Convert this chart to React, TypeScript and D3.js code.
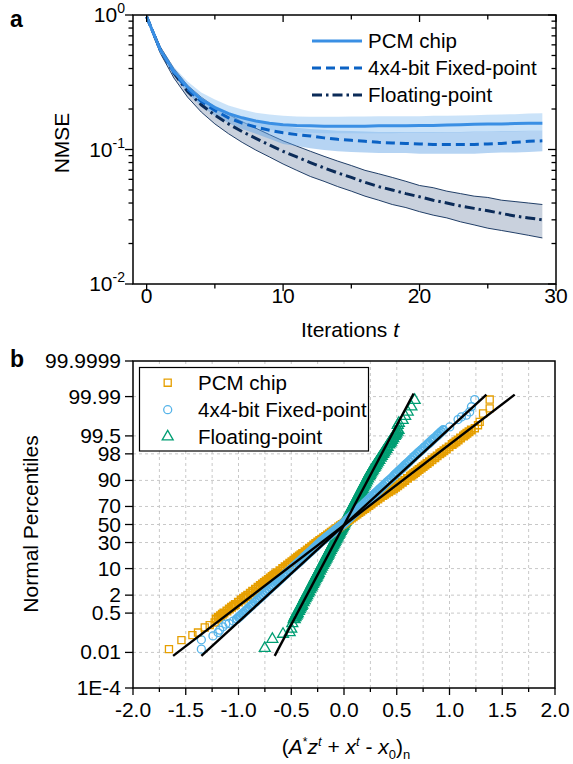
import React from 'react';
import * as d3 from 'd3';

// ---------- Panel a data ----------
const iterations = [0,1,2,3,4,5,6,7,8,9,10,11,12,13,14,15,16,17,18,19,20,21,22,23,24,25,26,27,28,29];
const pcmMean = [0.97,0.55,0.38,0.29,0.235,0.205,0.185,0.172,0.163,0.157,0.153,0.151,0.150,0.149,0.149,0.149,0.149,0.150,0.150,0.150,0.151,0.151,0.152,0.153,0.154,0.155,0.155,0.156,0.157,0.157];
const pcmHi = [1.0,0.58,0.41,0.32,0.265,0.235,0.212,0.198,0.188,0.182,0.178,0.176,0.175,0.175,0.175,0.176,0.176,0.177,0.177,0.177,0.177,0.178,0.178,0.179,0.180,0.181,0.182,0.183,0.185,0.186];
const pcmLo = [0.94,0.52,0.355,0.27,0.218,0.188,0.168,0.155,0.146,0.140,0.136,0.134,0.133,0.132,0.132,0.132,0.132,0.132,0.132,0.133,0.133,0.133,0.134,0.134,0.135,0.135,0.136,0.136,0.137,0.137];
const fixMean = [0.97,0.55,0.375,0.28,0.228,0.195,0.172,0.157,0.147,0.139,0.133,0.129,0.126,0.122,0.119,0.117,0.115,0.113,0.112,0.111,0.110,0.109,0.109,0.109,0.109,0.110,0.111,0.113,0.115,0.116];
const fixHi = [0.99,0.57,0.395,0.30,0.245,0.212,0.19,0.174,0.163,0.155,0.149,0.145,0.142,0.140,0.138,0.137,0.136,0.135,0.135,0.135,0.135,0.135,0.135,0.135,0.136,0.136,0.137,0.137,0.138,0.138];
const fixLo = [0.95,0.53,0.355,0.262,0.21,0.178,0.157,0.142,0.131,0.120,0.110,0.106,0.102,0.099,0.097,0.096,0.095,0.094,0.094,0.094,0.093,0.093,0.093,0.093,0.093,0.094,0.095,0.095,0.096,0.097];
const floatMean = [0.97,0.55,0.37,0.27,0.215,0.18,0.155,0.136,0.121,0.108,0.097,0.088,0.080,0.073,0.067,0.062,0.057,0.053,0.050,0.047,0.0445,0.042,0.040,0.038,0.0365,0.035,0.0335,0.032,0.031,0.030];
const floatHi = [0.99,0.58,0.40,0.30,0.245,0.208,0.182,0.161,0.144,0.129,0.116,0.106,0.097,0.089,0.082,0.076,0.070,0.066,0.062,0.058,0.054,0.052,0.049,0.047,0.045,0.044,0.042,0.041,0.040,0.039];
const floatLo = [0.95,0.52,0.34,0.245,0.19,0.155,0.131,0.113,0.099,0.088,0.078,0.070,0.063,0.058,0.053,0.049,0.045,0.042,0.039,0.037,0.0345,0.0325,0.031,0.029,0.0275,0.026,0.025,0.024,0.023,0.022];
const legendA = ['PCM chip', '4x4-bit Fixed-point', 'Floating-point'];

// ---------- Panel b data ----------
const bandPct = [
  0.3,0.35,0.4,0.45,0.5,0.6,0.7,0.8,0.9,1,1.2,1.4,1.6,1.8,2,2.3,2.6,3,3.4,3.8,4.2,4.6,5,5.5,6,6.5,7,7.5,8,9,
  10,11,12,13,14,15,16,17,18,19,20,21.5,23,24.5,26,27.5,29,30.5,32,33.5,35,36.5,38,39.5,41,42.5,44,45.5,47,48.5,
  50,
  51.5,53,54.5,56,57.5,59,60.5,62,63.5,65,66.5,68,69.5,71,72.5,74,75.5,77,78.5,80,81,82,83,84,85,86,87,88,89,90,
  91,92,92.5,93,93.5,94,94.5,95,95.4,95.8,96.2,96.6,97,97.4,97.7,98,98.2,98.4,98.6,98.8,99,99.1,99.2,99.3,99.4,99.5,99.55,99.6,99.65,99.7,
];
const pcmBandX = [
  -1.212,-1.190,-1.170,-1.153,-1.138,-1.110,-1.087,-1.066,-1.047,-1.030,-1.001,-0.975,-0.952,-0.932,-0.913,-0.888,-0.866,-0.839,-0.815,-0.793,-0.773,-0.755,-0.737,-0.717,-0.699,-0.681,-0.665,-0.649,-0.634,-0.607,
  -0.581,-0.558,-0.535,-0.514,-0.494,-0.475,-0.457,-0.440,-0.423,-0.408,-0.392,-0.369,-0.348,-0.327,-0.306,-0.287,-0.268,-0.249,-0.230,-0.211,-0.193,-0.174,-0.156,-0.138,-0.121,-0.103,-0.086,-0.068,-0.051,-0.034,
  -0.017,
  0.001,0.018,0.035,0.052,0.070,0.087,0.105,0.123,0.141,0.159,0.178,0.197,0.216,0.236,0.256,0.277,0.298,0.321,0.344,0.368,0.384,0.401,0.424,0.447,0.470,0.489,0.509,0.530,0.553,0.576,
  0.602,0.629,0.644,0.660,0.676,0.694,0.712,0.732,0.750,0.768,0.788,0.810,0.834,0.861,0.883,0.908,0.927,0.947,0.970,0.996,1.025,1.042,1.061,1.082,1.105,1.133,1.148,1.165,1.185,1.207,
];
const fixedBandX = [
  -1.016,-0.997,-0.981,-0.967,-0.954,-0.932,-0.912,-0.895,-0.880,-0.866,-0.841,-0.820,-0.801,-0.784,-0.769,-0.748,-0.730,-0.708,-0.688,-0.670,-0.653,-0.638,-0.624,-0.607,-0.592,-0.577,-0.564,-0.551,-0.539,-0.516,
  -0.495,-0.476,-0.457,-0.440,-0.423,-0.408,-0.393,-0.379,-0.365,-0.352,-0.339,-0.320,-0.302,-0.285,-0.268,-0.252,-0.236,-0.221,-0.204,-0.187,-0.171,-0.154,-0.138,-0.122,-0.107,-0.092,-0.077,-0.061,-0.046,-0.030,
  -0.015,
  -0.002,0.011,0.024,0.037,0.050,0.064,0.077,0.090,0.104,0.118,0.132,0.146,0.161,0.176,0.191,0.207,0.223,0.240,0.257,0.275,0.288,0.301,0.314,0.328,0.342,0.358,0.373,0.390,0.408,0.427,
  0.448,0.470,0.482,0.494,0.507,0.521,0.536,0.553,0.566,0.581,0.597,0.615,0.634,0.655,0.673,0.694,0.709,0.726,0.745,0.766,0.791,0.805,0.820,0.837,0.857,0.880,0.892,0.907,0.922,0.941,
];
const floatBandX = [
  -0.472,-0.464,-0.456,-0.449,-0.443,-0.432,-0.423,-0.415,-0.407,-0.400,-0.389,-0.379,-0.370,-0.362,-0.354,-0.344,-0.335,-0.325,-0.315,-0.307,-0.299,-0.291,-0.285,-0.277,-0.269,-0.262,-0.256,-0.250,-0.244,-0.233,
  -0.223,-0.214,-0.205,-0.196,-0.189,-0.181,-0.174,-0.167,-0.161,-0.154,-0.148,-0.139,-0.131,-0.122,-0.114,-0.107,-0.099,-0.092,-0.085,-0.077,-0.070,-0.064,-0.057,-0.050,-0.044,-0.037,-0.031,-0.024,-0.018,-0.011,
  -0.005,
  0.001,0.008,0.014,0.021,0.027,0.034,0.040,0.047,0.054,0.060,0.067,0.075,0.082,0.089,0.097,0.104,0.112,0.121,0.129,0.138,0.144,0.151,0.157,0.164,0.171,0.179,0.186,0.195,0.204,0.213,
  0.223,0.234,0.240,0.246,0.253,0.262,0.271,0.280,0.289,0.298,0.308,0.318,0.330,0.343,0.354,0.366,0.375,0.385,0.397,0.409,0.423,0.432,0.441,0.451,0.463,0.476,0.484,0.492,0.501,0.512,
];
const pcmTailX = [-1.659,-1.541,-1.437,-1.384,-1.320,-1.273,-1.226,1.240,1.270,1.286,1.318,1.381,1.381];
const pcmTailPct = [0.0145,0.039,0.065,0.084,0.138,0.173,0.22,99.744,99.805,99.857,99.9375,99.963,99.986];
const fixedTailX = [-1.352,-1.352,-1.242,-1.194,-1.178,-1.147,-1.121,-1.090,-1.050,1.002,1.081,1.113,1.160,1.191,1.208,1.239];
const fixedTailPct = [0.0145,0.04,0.06,0.084,0.107,0.147,0.19,0.2,0.25,99.772,99.886,99.912,99.926,99.947,99.969,99.986];
const floatTailX = [-0.751,-0.679,-0.578,-0.515,-0.500,-0.490,0.509,0.520,0.556,0.580,0.604,0.639,0.670];
const floatTailPct = [0.0162,0.043,0.072,0.084,0.12,0.2,99.805,99.84,99.878,99.918,99.947,99.969,99.985];
const fitPcmX = [-1.62, 1.618];
const fitFixedX = [-1.352, 1.35];
const fitFloatX = [-0.657, 0.66];
const fitPct = [0.0067, 99.992];
const fitFloatPct = [0.0067, 99.993];
const pctTicks = [1e-4,0.01,0.5,2,10,30,50,70,90,98,99.5,99.99,99.9999];
const pctLabels = ['1E-4','0.01','0.5','2','10','30','50','70','90','98','99.5','99.99','99.9999'];
const xTicksB = [-2,-1.5,-1,-0.5,0,0.5,1,1.5,2];
const legendB = ['PCM chip', '4x4-bit Fixed-point', 'Floating-point'];

function probit(p: number): number {
  const a = [-3.969683028665376e+01, 2.209460984245205e+02, -2.759285104469687e+02, 1.383577518672690e+02, -3.066479806614716e+01, 2.506628277459239e+00];
  const b = [-5.447609879822406e+01, 1.615858368580409e+02, -1.556989798598866e+02, 6.680131188771972e+01, -1.328068155288572e+01];
  const c = [-7.784894002430293e-03, -3.223964580411365e-01, -2.400758277161838e+00, -2.549732539343734e+00, 4.374664141464968e+00, 2.938163982698783e+00];
  const d = [7.784695709041462e-03, 3.224671290700398e-01, 2.445134137142996e+00, 3.754408661907416e+00];
  const plow = 0.02425;
  if (p < plow) {
    const q = Math.sqrt(-2 * Math.log(p));
    return (((((c[0]*q+c[1])*q+c[2])*q+c[3])*q+c[4])*q+c[5]) / ((((d[0]*q+d[1])*q+d[2])*q+d[3])*q+1);
  } else if (p <= 1 - plow) {
    const q = p - 0.5, r = q * q;
    return (((((a[0]*r+a[1])*r+a[2])*r+a[3])*r+a[4])*r+a[5])*q / (((((b[0]*r+b[1])*r+b[2])*r+b[3])*r+b[4])*r+1);
  }
  const q = Math.sqrt(-2 * Math.log(1 - p));
  return -(((((c[0]*q+c[1])*q+c[2])*q+c[3])*q+c[4])*q+c[5]) / ((((d[0]*q+d[1])*q+d[2])*q+d[3])*q+1);
}

const FONT = 'Liberation Sans, Arial, Helvetica, sans-serif';
const C_PCM = '#3a8fe4';
const C_FIX = '#0b62c4';
const C_FLT = '#0b2b58';
const C_OR = '#E69F00';
const C_BL = '#56B4E9';
const C_GR = '#009E73';
const FS = 21;
const FL = 20.5;

export default function App() {
  const xa = d3.scaleLinear().domain([-1, 30]).range([133, 556]);
  const ya = d3.scaleLog().domain([0.01, 1]).range([284, 15]);
  const area = (lo: number[], hi: number[]) =>
    d3.area<number>().x((d) => xa(d)).y0((_, i) => ya(lo[i])).y1((_, i) => ya(hi[i]))(iterations) || '';
  const line = (m: number[]) => d3.line<number>().x((d) => xa(d)).y((_, i) => ya(m[i]))(iterations) || '';
  const yTicksA = ya.ticks();
  const isMajor = (v: number) => Math.abs(Math.log10(v) - Math.round(Math.log10(v))) < 1e-9;
  const xTicksA = d3.range(0, 31, 5);

  const xb = d3.scaleLinear().domain([-2, 2]).range([133, 555]);
  const zb = d3.scaleLinear().domain([probit(1e-6), probit(1 - 1e-6)]).range([688, 361]);
  const yb = (pct: number) => zb(probit(pct / 100));
  const xGrid = d3.range(-1.75, 1.76, 0.25);
  const xMinor = d3.range(-1.75, 1.76, 0.5);

  const sq = d3.symbol(d3.symbolSquare, 50)() || '';
  const tri = d3.symbol(d3.symbolTriangle, 52)() || '';

  const band = (bx: number[]) => bandPct.map((p, i) => [bx[i], p] as [number, number]);
  const tail = (tx: number[], tp: number[]) => tx.map((x, i) => [x, tp[i]] as [number, number]);

  const series = [
    { key: 'fl', kind: 'tri', col: C_GR, band: band(floatBandX), tail: tail(floatTailX, floatTailPct) },
    { key: 'pc', kind: 'sq', col: C_OR, band: band(pcmBandX), tail: tail(pcmTailX, pcmTailPct) },
    { key: 'fx', kind: 'circ', col: C_BL, band: band(fixedBandX), tail: tail(fixedTailX, fixedTailPct) },
  ];
  const marker = (kind: string, col: string, cx: number, cy: number, sw: number, key: string) =>
    kind === 'circ' ? (
      <circle key={key} cx={cx} cy={cy} r={4} fill="none" stroke={col} strokeWidth={sw} />
    ) : (
      <path key={key} d={kind === 'sq' ? sq : tri} transform={`translate(${cx},${cy})`} fill="none" stroke={col} strokeWidth={sw} />
    );

  const fits = [
    { x: fitPcmX, p: fitPct },
    { x: fitFixedX, p: fitPct },
    { x: fitFloatX, p: fitFloatPct },
  ];

  return (
    <svg width={573} height={764} style={{ position: 'absolute', left: 0, top: 0, background: '#fff' }} fontFamily={FONT}>
      <rect width={573} height={764} fill="#fff" />
      {/* ---------------- Panel a ---------------- */}
      <text x={10} y={27} fontSize={23} fontWeight="bold">a</text>
      <path d={area(floatLo, floatHi)} fill="#c9d1dd" stroke="none" />
      <path d={line(floatHi)} fill="none" stroke={C_FLT} strokeWidth={0.9} />
      <path d={line(floatLo)} fill="none" stroke={C_FLT} strokeWidth={0.9} />
      <path d={area(fixLo, fixHi)} fill="#5d9fe4" fillOpacity={0.45} />
      <path d={area(pcmLo, pcmHi)} fill="#8cc1f2" fillOpacity={0.45} />
      <path d={line(floatMean)} fill="none" stroke={C_FLT} strokeWidth={3} strokeDasharray="10,4,2.5,4" />
      <path d={line(fixMean)} fill="none" stroke={C_FIX} strokeWidth={3} strokeDasharray="9,5" />
      <path d={line(pcmMean)} fill="none" stroke={C_PCM} strokeWidth={3} />
      <rect x={133} y={15} width={423} height={269} fill="none" stroke="#000" strokeWidth={1.5} />
      {yTicksA.map((v) => {
        const mj = isMajor(v);
        return (
          <g key={'ya' + v}>
            <line x1={133} x2={133 - (mj ? 8 : 4.5)} y1={ya(v)} y2={ya(v)} stroke="#000" strokeWidth={1.3} />
            <line x1={556} x2={556 - (mj ? 8 : 4.5)} y1={ya(v)} y2={ya(v)} stroke="#000" strokeWidth={1.3} />
          </g>
        );
      })}
      {yTicksA.filter(isMajor).map((v) => (
        <text key={'yl' + v} x={125} y={ya(v) + 7} textAnchor="end" fontSize={FS}>
          10<tspan dy={-9} fontSize={14}>{String(Math.round(Math.log10(v)))}</tspan>
        </text>
      ))}
      {xTicksA.map((v) => (
        <g key={'xa' + v}>
          <line x1={xa(v)} x2={xa(v)} y1={284} y2={284 + (v % 10 === 0 ? 7 : 4.5)} stroke="#000" strokeWidth={1.3} />
          <line x1={xa(v)} x2={xa(v)} y1={15} y2={15 + (v % 10 === 0 ? 7 : 4.5)} stroke="#000" strokeWidth={1.3} />
          {v % 10 === 0 && (
            <text x={xa(v)} y={303} textAnchor="middle" fontSize={FS}>{v}</text>
          )}
        </g>
      ))}
      <text x={350} y={337} textAnchor="middle" fontSize={FS}>
        Iterations <tspan fontStyle="italic">t</tspan>
      </text>
      <text transform="translate(69,143) rotate(-90)" textAnchor="middle" fontSize={FS}>NMSE</text>
      {legendA.map((s, i) => {
        const y = 41 + i * 27;
        const col = [C_PCM, C_FIX, C_FLT][i];
        const dash = ['', '9,5', '10,4,2.5,4'][i];
        return (
          <g key={'la' + i}>
            <line x1={312} x2={362} y1={y} y2={y} stroke={col} strokeWidth={3} strokeDasharray={dash || undefined} />
            <text x={368} y={y + 7} fontSize={FL}>{s}</text>
          </g>
        );
      })}

      {/* ---------------- Panel b ---------------- */}
      <text x={10} y={367} fontSize={23} fontWeight="bold">b</text>
      {xGrid.map((v) => (
        <line key={'gx' + v} x1={xb(v)} x2={xb(v)} y1={361} y2={688} stroke="#c8c8c8" strokeWidth={1} strokeDasharray="3,3" />
      ))}
      {pctTicks.slice(1, -1).map((p) => (
        <line key={'gy' + p} x1={133} x2={555} y1={yb(p)} y2={yb(p)} stroke="#c8c8c8" strokeWidth={1} strokeDasharray="3,3" />
      ))}
      {series.map((s) => (
        <g key={s.key}>
          {s.band.map((d, i) => marker(s.kind, s.col, xb(d[0]), yb(d[1]), 1.9, s.key + 'b' + i))}
          {s.tail.map((d, i) => marker(s.kind, s.col, xb(d[0]), yb(d[1]), 1.3, s.key + 't' + i))}
        </g>
      ))}
      {fits.map((f, i) => (
        <line key={'fit' + i} x1={xb(f.x[0])} x2={xb(f.x[1])} y1={yb(f.p[0])} y2={yb(f.p[1])} stroke="#000" strokeWidth={2.4} />
      ))}
      <rect x={133} y={361} width={422} height={327} fill="none" stroke="#000" strokeWidth={1.5} />
      {pctTicks.map((p, i) => (
        <g key={'yt' + p}>
          <line x1={133} x2={125} y1={yb(p)} y2={yb(p)} stroke="#000" strokeWidth={1.3} />
          <text x={121} y={yb(p) + 7} textAnchor="end" fontSize={FS}>{pctLabels[i]}</text>
        </g>
      ))}
      {xTicksB.map((v) => (
        <g key={'xt' + v}>
          <line x1={xb(v)} x2={xb(v)} y1={688} y2={695} stroke="#000" strokeWidth={1.3} />
          <text x={xb(v)} y={717} textAnchor="middle" fontSize={FS}>{v.toFixed(1)}</text>
        </g>
      ))}
      {xMinor.map((v) => (
        <line key={'xm' + v} x1={xb(v)} x2={xb(v)} y1={688} y2={692} stroke="#000" strokeWidth={1.3} />
      ))}
      <text transform="translate(38,524) rotate(-90)" textAnchor="middle" fontSize={FS}>Normal Percentiles</text>
      <text x={346} y={754} textAnchor="middle" fontSize={FS}>
        (<tspan fontStyle="italic">A</tspan>
        <tspan dy={-8} fontSize={12}>*</tspan>
        <tspan dy={8} fontStyle="italic">z</tspan>
        <tspan dy={-8} fontSize={13} fontStyle="italic">t</tspan>
        <tspan dy={8}>{' + '}</tspan>
        <tspan fontStyle="italic">x</tspan>
        <tspan dy={-8} fontSize={13} fontStyle="italic">t</tspan>
        <tspan dy={8}>{' - '}</tspan>
        <tspan fontStyle="italic">x</tspan>
        <tspan dy={5} fontSize={13}>0</tspan>
        <tspan dy={-5}>)</tspan>
        <tspan dy={5} fontSize={13}>n</tspan>
      </text>
      <rect x={139.5} y={367.5} width={229} height={83.5} fill="#fff" stroke="#000" strokeWidth={1.2} />
      {legendB.map((s, i) => {
        const y = 382.7 + i * 27;
        return (
          <g key={'lb' + i}>
            {marker(['sq', 'circ', 'tri'][i], [C_OR, C_BL, C_GR][i], 167.7, y, 1.3, 'lm' + i)}
            <text x={198} y={y + 7} fontSize={FL}>{s}</text>
          </g>
        );
      })}
    </svg>
  );
}
